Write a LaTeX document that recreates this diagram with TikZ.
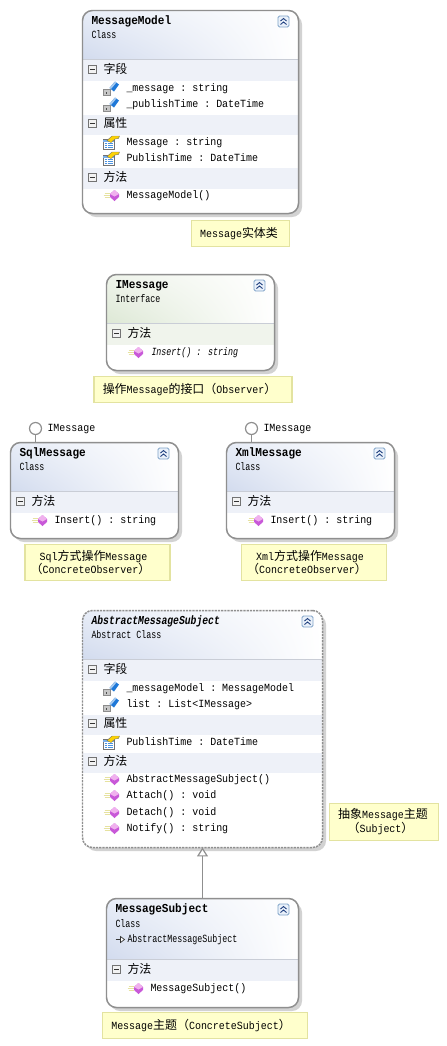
\documentclass[tikz,border=0pt]{standalone}
\usepackage{fontspec}
\setmonofont[FakeStretch=0.91]{Liberation Mono}
\newfontfamily\cjk{Noto Sans CJK SC}
\newfontfamily\narrowmono[FakeStretch=0.76]{Liberation Mono}
\newfontfamily\narrowit[FakeStretch=0.76]{Liberation Mono Italic}
\newfontfamily\titleit[FakeStretch=0.80]{Liberation Mono Bold Italic}
\usetikzlibrary{shadings,arrows.meta}
\definecolor{hdrUL}{HTML}{E8EDF7}
\definecolor{hdrLL}{HTML}{D2DBEE}
\definecolor{secbar}{HTML}{EEF1F8}
\definecolor{frameline}{HTML}{8F8F8F}
\definecolor{shadowcol}{HTML}{D2D2D2}
\definecolor{headline}{HTML}{C9CDD6}
\definecolor{notefill}{HTML}{FFFFCC}
\definecolor{noteline}{HTML}{E3E3A0}
\definecolor{btnline}{HTML}{7FA3C8}
\definecolor{btnfill}{HTML}{EAF1FA}
\definecolor{navy}{HTML}{1F3F7F}
\definecolor{methodpurple}{HTML}{C858D8}
\definecolor{methodlight}{HTML}{F0B0EE}
\definecolor{fieldblue}{HTML}{1E78D8}
\definecolor{paleline}{HTML}{E6E2A0}
\tikzset{
  classframe/.style={draw=frameline,line width=1.5pt,rounded corners=10pt,rectangle,inner sep=0pt,outer sep=0pt},
  abstractframe/.style={classframe,dashed,dash pattern=on 2.2pt off 1pt},
  lbl/.style={inner sep=0pt,outer sep=0pt,anchor=base west,font=\ttfamily\fontsize{11}{12}\selectfont,text=black},
  titlelbl/.style={font=\ttfamily\bfseries\fontsize{12.2}{13}\selectfont},
  sublbl/.style={font=\narrowmono\fontsize{11}{12}\selectfont},
  notebox/.style={rectangle,draw=noteline,line width=1.3pt,fill=notefill,inner sep=0pt,outer sep=0pt,align=center,font=\ttfamily\fontsize{11}{14}\selectfont,text=black},
  lolli/.style={circle,draw=frameline,line width=1.2pt,fill=white,minimum size=12bp,inner sep=0pt,outer sep=0pt},
  lolliline/.style={draw=frameline,line width=1.5pt},
  inherit/.style={draw=frameline,line width=1.7pt,-{Triangle[fill=white,length=9pt,width=11pt,line width=1.2pt]}}
}
\newcommand{\zh}[1]{{\cjk\fontsize{12}{14}\selectfont #1}}
\newcounter{tn}
\newcommand{\lbltext}[4][]{\stepcounter{tn}\node[lbl,#1] (t\arabic{tn}) at ({#2},{#3+3.3}) {#4};}
\newcommand{\classbox}[8]{%
  % #1 frame style, #2 name, #3 l, #4 t, #5 r, #6 b, #7 header end, #8 bars
  \fill[shadowcol,rounded corners=10pt] ({#3+3.5},{#4+4}) rectangle ({#5+3.5},{#6+3.5});
  \fill[white,rounded corners=10pt] (#3,#4) rectangle (#5,#6);
  \begin{scope}
    \clip[rounded corners=10pt] (#3,#4) rectangle (#5,#6);
    \shade[shading=bilinear interpolation,upper left=hdrUL,lower left=hdrLL,upper right=white,lower right=white] (#3,#4) rectangle (#5,#7);
    \foreach \a/\b in {#8} {\fill[secbar] (#3,\a) rectangle (#5,\b);}
    \draw[headline,line width=0.8pt] (#3,#7) -- (#5,#7);
  \end{scope}
  \node[#1,minimum width={(#5-#3)*1bp},minimum height={(#6-#4)*1bp}] (#2) at ({(#3+#5)/2},{(#4+#6)/2}) {};
  % collapse button
  \begin{scope}[shift={({#5-15},{#4+11})}]
    \fill[btnfill,draw=btnline,line width=0.8pt,rounded corners=1.5pt] (-5.5,-5.5) rectangle (5.5,5.5);
    \draw[navy,line width=0.9pt] (-3,-0.5) -- (0,-3) -- (3,-0.5) (-3,3) -- (0,0.5) -- (3,3);
  \end{scope}
}
\newcommand{\secrow}[3]{%
  % x left of box, y centre, text
  \begin{scope}[shift={({#1+10},#2)}]
    \fill[white!90!gray,draw=black!55,line width=0.8pt] (-4,-4) rectangle (4,4);
    \draw[black!80,line width=0.9pt] (-2.2,0) -- (2.2,0);
  \end{scope}
  \stepcounter{tn}\node[lbl,font=\cjk\fontsize{12}{14}\selectfont] (t\arabic{tn}) at ({#1+21},{#2+4}) {#3};
}
\newcommand{\fieldicon}[2]{%
  \begin{scope}[shift={(#1,#2)}]
    \fill[fieldblue] (-1.5,-0.5) -- (4,-7) -- (8,-4) -- (3,3) -- cycle;
    \fill[white!60!fieldblue] (-1.5,-0.5) -- (4,-7) -- (5.5,-6) -- (0,0.5) -- cycle;
    \draw[gray,line width=1pt] (-6.5,1) arc[start angle=180,end angle=0,radius=2.5];
    \fill[gray!45,draw=gray!90,line width=0.8pt] (-8,1) rectangle (-1,7);
    \fill[black!70] (-5,3) rectangle (-4,5);
  \end{scope}
}
\newcommand{\propicon}[2]{%
  \begin{scope}[shift={(#1,#2)}]
    \fill[white,draw=black!55,line width=0.7pt] (-8,-3) rectangle (3,7);
    \fill[fieldblue!60] (-8,-3) rectangle (3,-1);
    \draw[fieldblue!80,line width=0.7pt] (-6.5,1) -- (-4.5,1) (-3.5,1) -- (1.5,1) (-6.5,3) -- (-4.5,3) (-3.5,3) -- (1.5,3) (-6.5,5) -- (-4.5,5) (-3.5,5) -- (1.5,5);
    \fill[yellow!70!orange,draw=black!55,line width=0.4pt] (-4,-2) -- (1,-6.5) -- (8.5,-6.5) -- (7.5,-4) -- (4,-3.5) -- (0,0) -- cycle;
  \end{scope}
}
\newcommand{\methodicon}[2]{%
  \begin{scope}[shift={(#1,#2)}]
    \draw[paleline,line width=0.9pt] (-10,-2) -- (-5,-2) (-11,0) -- (-5,0) (-10,2) -- (-5,2);
    \fill[methodpurple] (-4.5,-1.5) -- (0,-5.5) -- (4.5,-1.5) -- (4.5,1.5) -- (0,5.5) -- (-4.5,1.5) -- cycle;
    \fill[methodlight] (-4.5,-1.5) -- (0,-5.5) -- (4.5,-1.5) -- (0,1) -- cycle;
  \end{scope}
}
\begin{document}
\begin{tikzpicture}[x=1bp,y=-1bp]
\useasboundingbox (0,0) rectangle (447,1046);
\fill[white] (0,0) rectangle (447,1046);
\begin{scope}[shift={(0.5,0.5)}]

% ---------- MessageModel
\classbox{classframe}{modelbox}{82}{10}{298}{213}{59}{59/80,114/134,167/188}
\lbltext[titlelbl]{91}{21}{MessageModel}
\lbltext[sublbl]{91}{35}{Class}
\secrow{82}{69}{字段}
\fieldicon{110.5}{88}\lbltext{126}{88}{\_message : string}
\fieldicon{110.5}{104}\lbltext{126}{104}{\_publishTime : DateTime}
\secrow{82}{123}{属性}
\propicon{110.5}{142}\lbltext{126}{142}{Message : string}
\propicon{110.5}{158}\lbltext{126}{158}{PublishTime : DateTime}
\secrow{82}{177}{方法}
\methodicon{114}{195}\lbltext{126}{195}{MessageModel()}
\node[notebox,minimum width=98bp,minimum height=26bp] (modelnote) at (240,233) {Message\zh{实体类}\hspace*{3pt}};

% ---------- IMessage
\begingroup
\definecolor{hdrUL}{HTML}{EFF4EB}
\definecolor{hdrLL}{HTML}{DDE8D5}
\definecolor{secbar}{HTML}{F0F4EC}
\classbox{classframe}{imessagebox}{106}{274}{274}{370}{323}{323/344}
\endgroup
\lbltext[titlelbl]{115}{285}{IMessage}
\lbltext[sublbl]{115}{299}{Interface}
\secrow{106}{333}{方法}
\methodicon{138}{352}\lbltext[font=\narrowit\fontsize{11}{12}\selectfont]{151}{352}{Insert() : string}
\node[notebox,minimum width=198bp,minimum height=26bp] (imessagenote) at (192.5,389) {\zh{操作}Message\zh{的接口（}Observer\zh{）}\hspace*{7pt}};

% ---------- SqlMessage
\classbox{classframe}{sqlbox}{10}{442}{178}{538}{491}{491/512}
\node[lolli] (sqllolli) at (35,428) {};
\draw[lolliline] (sqllolli) -- (sqllolli |- sqlbox.north);
\lbltext{47}{428}{IMessage}
\lbltext[titlelbl]{19}{453}{SqlMessage}
\lbltext[sublbl]{19}{467}{Class}
\secrow{10}{501}{方法}
\methodicon{42}{520}\lbltext{54}{520}{Insert() : string}
\node[notebox,minimum width=145bp,minimum height=36bp] (sqlnote) at (97,562) {Sql\zh{方式操作}Message\hspace*{8pt}\\\zh{（}ConcreteObserver\zh{）}\hspace*{14pt}};

% ---------- XmlMessage
\classbox{classframe}{xmlbox}{226}{442}{394}{538}{491}{491/512}
\node[lolli] (xmllolli) at (251,428) {};
\draw[lolliline] (xmllolli) -- (xmllolli |- xmlbox.north);
\lbltext{263}{428}{IMessage}
\lbltext[titlelbl]{235}{453}{XmlMessage}
\lbltext[sublbl]{235}{467}{Class}
\secrow{226}{501}{方法}
\methodicon{258}{520}\lbltext{270}{520}{Insert() : string}
\node[notebox,minimum width=145bp,minimum height=36bp] (xmlnote) at (313.5,562) {Xml\zh{方式操作}Message\hspace*{8pt}\\\zh{（}ConcreteObserver\zh{）}\hspace*{14pt}};

% ---------- AbstractMessageSubject
\classbox{abstractframe}{abstractbox}{82}{610}{322}{847}{659}{659/680,714/734,752/772}
\lbltext[font=\titleit\fontsize{12.2}{13}\selectfont]{91}{621}{AbstractMessageSubject}
\lbltext[sublbl]{91}{635}{Abstract Class}
\secrow{82}{669}{字段}
\fieldicon{110.5}{688}\lbltext{126}{688}{\_messageModel : MessageModel}
\fieldicon{110.5}{704}\lbltext{126}{704}{list : List<IMessage>}
\secrow{82}{723}{属性}
\propicon{110.5}{742}\lbltext{126}{742}{PublishTime : DateTime}
\secrow{82}{761}{方法}
\methodicon{114}{779}\lbltext{126}{779}{AbstractMessageSubject()}
\methodicon{114}{795}\lbltext{126}{795}{Attach() : void}
\methodicon{114}{812}\lbltext{126}{812}{Detach() : void}
\methodicon{114}{828}\lbltext{126}{828}{Notify() : string}
\node[notebox,minimum width=109bp,minimum height=37bp] (abstractnote) at (383.5,821.5) {\zh{抽象}Message\zh{主题}\hspace*{2pt}\\\zh{（}Subject\zh{）}\hspace*{7pt}};

% ---------- MessageSubject
\classbox{classframe}{subjectbox}{106}{898}{298}{1007}{959}{959/980}
\draw[inherit] (subjectbox.north) -- (abstractbox.south);
\lbltext[titlelbl]{115}{909}{MessageSubject}
\lbltext[sublbl]{115}{923.5}{Class}
\begin{scope}[shift={(115,939)}]
  \draw[black!80,line width=0.9pt] (0,0) -- (5,0);
  \fill[white,draw=black!80,line width=0.7pt] (5,-3) -- (9,0) -- (5,3) -- cycle;
\end{scope}
\lbltext[sublbl]{127}{939}{AbstractMessageSubject}
\secrow{106}{969}{方法}
\methodicon{138}{988}\lbltext{150}{988}{MessageSubject()}
\node[notebox,minimum width=205bp,minimum height=26bp] (subjectnote) at (204.5,1025) {Message\zh{主题（}ConcreteSubject\zh{）}\hspace*{8pt}};
\end{scope}
\end{tikzpicture}
\end{document}
